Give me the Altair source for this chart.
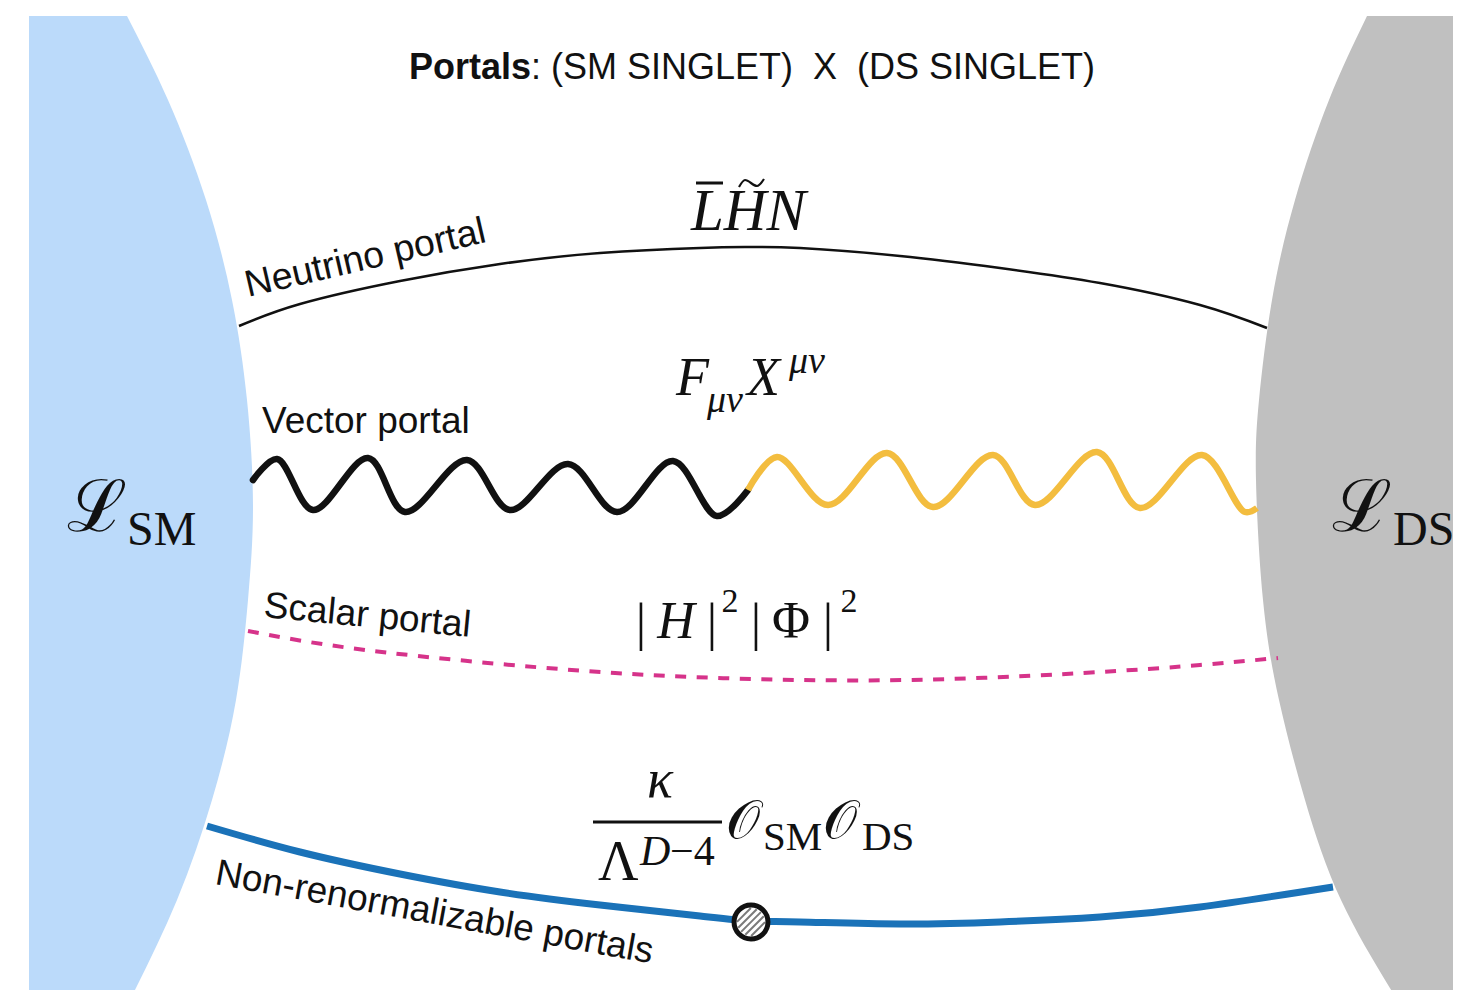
import altair as alt
import pandas as pd
import math

# ---------------- data (figure pixel coordinates) ----------------
X_DOMAIN = [8, 1453]
Y_DOMAIN = [8, 990]

# Standard-Model blob (light blue): left edge and curved right edge
SM_LEFT = 29
SM_EDGE_Y = [16, 100, 200, 300, 400, 506, 600, 700, 800, 900, 998]
SM_EDGE_X = [127, 168, 206, 232, 247, 253, 248, 236, 212, 177, 131]

# Dark-sector blob (grey): curved left edge, right edge at figure border
DS_RIGHT = 1461
DS_EDGE_Y = [16, 100, 200, 300, 400, 480, 600, 700, 800, 900, 998]
DS_EDGE_X = [1367, 1329, 1295, 1272, 1259, 1256, 1263, 1279, 1305, 1341, 1396]

# Neutrino portal (thin black arc)
NU_X = [239, 300, 400, 500, 600, 700, 750, 800, 900, 1000, 1100, 1200, 1267]
NU_Y = [326, 304, 281, 264, 253, 248, 247, 248, 256, 268, 283, 305, 328]

# Vector portal: wavy line, black (SM side) then yellow (DS side) - peaks & troughs
WAVE_SM_X = [253, 277, 313, 368, 405, 467, 510, 568, 617, 673, 717, 748]
WAVE_SM_Y = [480, 459, 510, 458, 512, 460, 510, 464, 512, 461, 516, 490]
WAVE_DS_X = [748, 777, 828, 887, 933, 993, 1035, 1097, 1140, 1202, 1245, 1257]
WAVE_DS_Y = [490, 457, 505, 453, 507, 455, 505, 452, 508, 455, 512, 508]

# Scalar portal (dashed magenta)
SC_X = [248, 350, 500, 650, 800, 950, 1100, 1200, 1278]
SC_Y = [631, 648, 664, 675, 680, 679, 672, 665, 658]

# Non-renormalizable portals (thick blue)
NR_X = [207, 300, 400, 500, 600, 700, 751, 800, 900, 1000, 1100, 1200, 1333]
NR_Y = [826, 852, 874, 892, 905, 916, 921, 922, 924, 922, 917, 907, 887]

# Vertex blob on the non-renormalizable line
VERTEX_X = [751]
VERTEX_Y = [922]
HATCH_OFFSETS = [-10, -5, 0, 5, 10]
HATCH_RADIUS = 14

# Tilde over H (as a small wiggle)
TILDE_X = [739, 745, 757, 764]
TILDE_Y = [187, 180, 186, 179]

# ---------------- scales ----------------
xs = alt.Scale(domain=X_DOMAIN, nice=False, zero=False)
ys = alt.Scale(domain=Y_DOMAIN, nice=False, zero=False, reverse=True)


def X(f):
    return alt.X(f, type="quantitative", scale=xs, axis=None)


def Y(f):
    return alt.Y(f, type="quantitative", scale=ys, axis=None)


# ---------------- regions ----------------
sm_df = pd.DataFrame({"y": SM_EDGE_Y, "x": [SM_LEFT] * len(SM_EDGE_Y), "x2": SM_EDGE_X})
sm_area = alt.Chart(sm_df).mark_area(
    orient="horizontal", interpolate="natural", color="#BBDAFA"
).encode(y=Y("y"), x=X("x"), x2="x2")

ds_df = pd.DataFrame({"y": DS_EDGE_Y, "x": DS_EDGE_X, "x2": [DS_RIGHT] * len(DS_EDGE_Y)})
ds_area = alt.Chart(ds_df).mark_area(
    orient="horizontal", interpolate="natural", color="#C0C0C0"
).encode(y=Y("y"), x=X("x"), x2="x2")


def line(xv, yv, **props):
    df = pd.DataFrame({"x": xv, "y": yv})
    return alt.Chart(df).mark_line(**props).encode(x=X("x"), y=Y("y"))


nu_line = line(NU_X, NU_Y, interpolate="natural", color="#111111", strokeWidth=2.5)
wave_sm = line(WAVE_SM_X, WAVE_SM_Y, interpolate="catmull-rom", color="#111111",
               strokeWidth=6.5, strokeCap="round")
wave_ds = line(WAVE_DS_X, WAVE_DS_Y, interpolate="catmull-rom", color="#F3BD3F",
               strokeWidth=6.5, strokeCap="butt")
sc_line = line(SC_X, SC_Y, interpolate="natural", color="#D6338A", strokeWidth=4,
               strokeDash=[11, 10.5])
nr_line = line(NR_X, NR_Y, interpolate="natural", color="#1A72B8", strokeWidth=7)

# vertex: white disc, grey hatching, black ring
vertex_df = pd.DataFrame({"x": VERTEX_X, "y": VERTEX_Y})
vertex_fill = alt.Chart(vertex_df).mark_point(
    shape="circle", filled=True, color="#FFFFFF", size=1150, opacity=1
).encode(x=X("x"), y=Y("y"))

hx, hy, hx2, hy2 = [], [], [], []
s2 = math.sqrt(0.5)
for d in HATCH_OFFSETS:
    h = math.sqrt(max(HATCH_RADIUS ** 2 - d ** 2, 0))
    cx = VERTEX_X[0] + d * s2
    cy = VERTEX_Y[0] + d * s2
    hx.append(cx - h * s2)
    hy.append(cy + h * s2)
    hx2.append(cx + h * s2)
    hy2.append(cy - h * s2)
hatch_df = pd.DataFrame({"x": hx, "y": hy, "x2": hx2, "y2": hy2})
hatch = alt.Chart(hatch_df).mark_rule(color="#7A7A7A", strokeWidth=2).encode(
    x=X("x"), y=Y("y"), x2="x2", y2="y2"
)
vertex_ring = alt.Chart(vertex_df).mark_point(
    shape="circle", filled=False, color="#111111", size=1150, strokeWidth=5, opacity=1
).encode(x=X("x"), y=Y("y"))


# ---------------- text ----------------
def text(xv, yv, tv, **props):
    df = pd.DataFrame({"x": xv, "y": yv, "t": tv})
    base = dict(baseline="alphabetic", color="#111111")
    base.update(props)
    return alt.Chart(df).mark_text(**base).encode(x=X("x"), y=Y("y"), text="t:N")


SANS = "Liberation Sans"
SERIF = "Liberation Serif"
NB = "\u00a0"

title_bold = text([531], [79], ["Portals"], align="right", font=SANS, fontSize=36,
                  fontWeight="bold")
title_rest = text([531], [79], [":" + NB + "(SM SINGLET)" + NB * 2 + "X" + NB * 2 + "(DS SINGLET)"],
                  align="left", font=SANS, fontSize=36)

lbl_nu = text([248], [297], ["Neutrino portal"], align="left", font=SANS, fontSize=37.5, angle=347)
lbl_vec = text([262], [433], ["Vector portal"], align="left", font=SANS, fontSize=37)
lbl_sc = text([263], [617], ["Scalar portal"], align="left", font=SANS, fontSize=37, angle=5.5)
lbl_nr = text([214], [884], ["Non-renormalizable portals"], align="left", font=SANS,
              fontSize=37, angle=10.3)

# L-bar H-tilde N
lhn = text([691], [230], ["LHN"], align="left", font=SERIF, fontSize=59, fontStyle="italic")
lhn_bar_df = pd.DataFrame({"x": [696], "x2": [723], "y": [183]})
lhn_bar = alt.Chart(lhn_bar_df).mark_rule(color="#111111", strokeWidth=3).encode(
    x=X("x"), x2="x2", y=Y("y"))
lhn_tilde = line(TILDE_X, TILDE_Y, interpolate="monotone", color="#111111", strokeWidth=2.2)

# F_{mu nu} X^{mu nu}
f_main = text([676, 747], [395, 395], ["F", "X"], align="left", font=SERIF, fontSize=54,
              fontStyle="italic")
f_sub = text([707], [412], ["\u03bc\u03bd"], align="left", font=SERIF, fontSize=38,
             fontStyle="italic")
f_sup = text([789], [373], ["\u03bc\u03bd"], align="left", font=SERIF, fontSize=38,
             fontStyle="italic")

# |H|^2 |Phi|^2
hp_bars = text([641, 712, 756, 828], [640, 640, 640, 640], ["|", "|", "|", "|"],
               align="center", font=SERIF, fontSize=52)
hp_h = text([676], [638], ["H"], align="center", font=SERIF, fontSize=52, fontStyle="italic")
hp_phi = text([791], [638], ["\u03a6"], align="center", font=SERIF, fontSize=52)
hp_sq = text([730, 849], [612, 612], ["2", "2"], align="center", font=SERIF, fontSize=34)

# kappa / Lambda^{D-4}  O_SM O_DS
kappa = text([660], [797], ["\u03ba"], align="center", font=SERIF, fontSize=54,
             fontStyle="italic")
frac_df = pd.DataFrame({"x": [593], "x2": [722], "y": [822]})
frac_bar = alt.Chart(frac_df).mark_rule(color="#111111", strokeWidth=3).encode(
    x=X("x"), x2="x2", y=Y("y"))
lam = text([598], [880], ["\u039b"], align="left", font=SERIF, fontSize=56)
d_it = text([640], [865], ["D"], align="left", font=SERIF, fontSize=42, fontStyle="italic")
d_rest = text([670], [865], ["\u22124"], align="left", font=SERIF, fontSize=42)
ops = text([726, 823], [838, 838], ["\U0001D4AA", "\U0001D4AA"], align="left", font=SERIF,
           fontSize=54)
ops_sub = text([763, 862], [850, 850], ["SM", "DS"], align="left", font=SERIF, fontSize=41)

# Lagrangians
lag = text([127, 1392], [531, 531], ["\u2112", "\u2112"], align="right", font=SERIF, fontSize=72)
lag_sub = text([127, 1393], [545, 545], ["SM", "DS"], align="left", font=SERIF, fontSize=48)

chart = alt.layer(
    sm_area, ds_area,
    nu_line, wave_sm, wave_ds, sc_line, nr_line,
    vertex_fill, hatch, vertex_ring,
    title_bold, title_rest,
    lbl_nu, lbl_vec, lbl_sc, lbl_nr,
    lhn, lhn_bar, lhn_tilde,
    f_main, f_sub, f_sup,
    hp_bars, hp_h, hp_phi, hp_sq,
    kappa, frac_bar, lam, d_it, d_rest, ops, ops_sub,
    lag, lag_sub,
).properties(
    width=X_DOMAIN[1] - X_DOMAIN[0],
    height=Y_DOMAIN[1] - Y_DOMAIN[0],
    padding=0,
    autosize=alt.AutoSizeParams(type="none"),
    background="#FFFFFF",
).configure_view(stroke=None)

chart.save("out.html", embed_options={"renderer": "svg", "actions": False})
